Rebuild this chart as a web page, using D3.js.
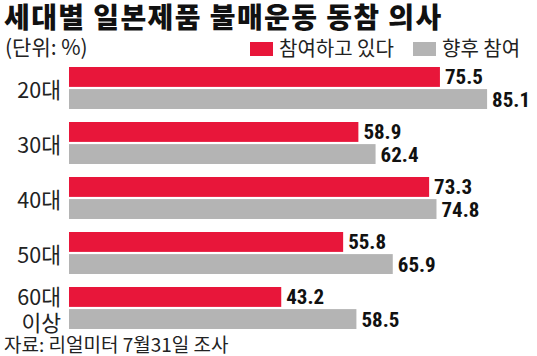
<!DOCTYPE html>
<html><head><meta charset="utf-8">
<script src="https://cdn.jsdelivr.net/npm/d3@7"></script>
<style>
html,body{margin:0;padding:0;background:#fff;}
svg{display:block;}
</style></head>
<body>
<script>
const categories = ["20대","30대","40대","50대","60대 이상"];
const seriesNames = ["참여하고 있다","향후 참여"];
const participating = [75.5, 58.9, 73.3, 55.8, 43.2];
const future = [85.1, 62.4, 74.8, 65.9, 58.5];
const colors = ["#e8163a","#b4b4b4"];
const title = "세대별 일본제품 불매운동 동참 의사";
const unitLabel = "(단위: %)";
const sourceLabel = "자료: 리얼미터 7월31일 조사";

const W = 537, H = 356;
const KR = "'Noto Sans CJK KR','Noto Sans',sans-serif";
const NUM = "'Liberation Sans Narrow','Roboto Condensed','Arial Narrow','Liberation Sans',sans-serif";

const svg = d3.select("body").append("svg").attr("width", W).attr("height", H);

const x = d3.scaleLinear().domain([0, 100]).range([69, 69 + 491.3]);
const y0 = d3.scaleBand().domain(categories).range([67, 342]).paddingInner(0).paddingOuter(0);
const y1 = d3.scaleBand().domain(seriesNames).range([0, 42]).paddingInner(0.1);

// title
svg.append("text").attr("x", 4).attr("y", 28)
  .attr("font-family", KR).attr("font-weight", 900).attr("font-size", 28)
  .attr("letter-spacing", 1.4)
  .attr("fill", "#111").text(title);

svg.append("text").attr("x", 5).attr("y", 55)
  .attr("font-family", KR).attr("font-size", 21).attr("fill", "#222").text(unitLabel);

// legend
const legX = [250, 413];
seriesNames.forEach((s, i) => {
  svg.append("rect").attr("x", legX[i]).attr("y", 42).attr("width", 23).attr("height", 14).attr("fill", colors[i]);
  svg.append("text").attr("x", legX[i] + 29).attr("y", 56)
    .attr("font-family", KR).attr("font-size", 20).attr("fill", "#222").text(s);
});

const data = categories.map((c, i) => ({cat: c, vals: [participating[i], future[i]]}));

const g = svg.append("g");
data.forEach(d => {
  d.vals.forEach((v, j) => {
    const yy = y0(d.cat) + y1(seriesNames[j]);
    const h = y1.bandwidth();
    g.append("rect").attr("x", x(0)).attr("y", yy).attr("width", x(v) - x(0)).attr("height", h).attr("fill", colors[j]);
    g.append("text").attr("x", x(v) + 5).attr("y", yy + h / 2 + 7.5)
      .attr("font-family", NUM).attr("font-weight", 700).attr("font-size", 21)
      .attr("fill", "#111").text(v.toFixed(1));
  });
});

// category labels
data.forEach((d, i) => {
  const parts = d.cat.split(" ");
  const yc = y0(d.cat);
  if (parts.length === 1) {
    svg.append("text").attr("x", 61).attr("y", yc + 31).attr("text-anchor", "end")
      .attr("font-family", KR).attr("font-size", 21.5).attr("fill", "#222").text(parts[0]);
  } else {
    svg.append("text").attr("x", 61).attr("y", yc + 18).attr("text-anchor", "end")
      .attr("font-family", KR).attr("font-size", 21.5).attr("fill", "#222").text(parts[0]);
    svg.append("text").attr("x", 61).attr("y", yc + 44).attr("text-anchor", "end")
      .attr("font-family", KR).attr("font-size", 21.5).attr("fill", "#222").text(parts[1]);
  }
});

svg.append("text").attr("x", 4).attr("y", 352)
  .attr("font-family", KR).attr("font-size", 19).attr("fill", "#222").text(sourceLabel);
</script>
</body></html>
